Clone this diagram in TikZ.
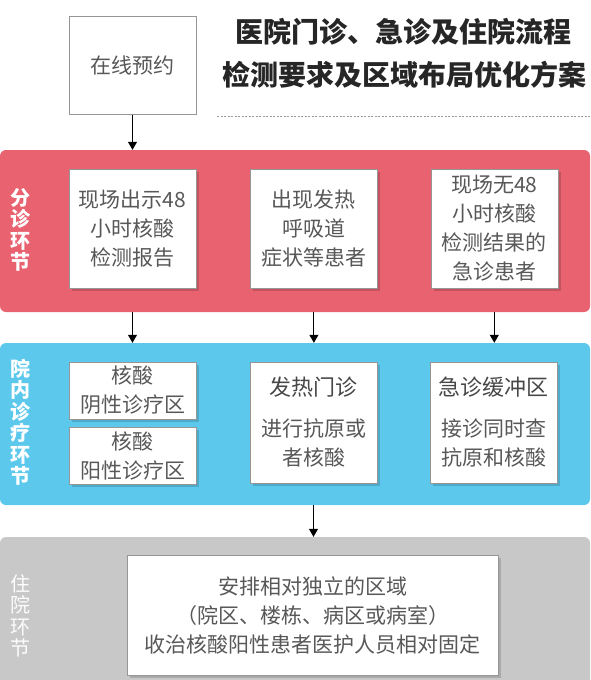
\documentclass[tikz,border=0pt]{standalone}
\usepackage{fontspec}
\setmainfont{Noto Sans CJK SC}
\usepackage{xcolor}
\usetikzlibrary{positioning,arrows.meta,shadows}
\definecolor{triage}{RGB}{232,98,112}
\definecolor{clinic}{RGB}{92,200,236}
\definecolor{ward}{RGB}{200,200,200}
\definecolor{txt}{RGB}{88,88,88}
\definecolor{rim}{RGB}{150,150,150}

\begin{document}
\begin{tikzpicture}[
  x=1pt, y=-1pt,
  node distance=8pt and 54pt,
  band/.style={rounded corners=6pt, minimum width=590pt, inner sep=0pt},
  card/.style={draw=rim, fill=white, align=center, text=txt, font=\fontsize{21}{29}\selectfont, minimum width=127pt, inner sep=0pt, drop shadow={shadow xshift=3pt, shadow yshift=-3pt, fill=black, opacity=.15}},
  tag/.style={text=white, font=\fontsize{20}{21.5}\selectfont, align=center},
  headline/.style={text=black!85, font=\fontsize{28}{30}\selectfont\bfseries},
  arr/.style={-{Triangle[length=8pt,width=9pt]}, line width=1.1pt}
]
\useasboundingbox (0,0) rectangle (590,680);

\node[draw=rim, fill=white, text=txt, font=\fontsize{21}{29}\selectfont, minimum width=127pt, minimum height=98pt, inner sep=0pt] (book) at (132.5,65.5) {在线预约};
\node[headline] (head1) at (403,32) {医院门诊、急诊及住院流程};
\node[headline] (head2) at (404,75) {检测要求及区域布局优化方案};
\coordinate (rule1) at (217,116);
\coordinate (rule2) at (590,116);
\draw[black!40, dashed, dash pattern=on 2pt off 1.5pt] (rule1) -- (rule2);

\node[band, fill=triage, minimum height=162pt] (triage) at (295,231) {};
\node[band, fill=clinic, minimum height=162pt] (clinic) at (295,424) {};
\node[band, fill=ward, minimum height=153pt] (ward) at (295,613.5) {};

\node[tag, font=\fontsize{20}{21.5}\selectfont\bfseries] (t1) at (20,230) {分\\诊\\环\\节};
\node[tag, font=\fontsize{20}{21.5}\selectfont\bfseries] (t2) at (20,422) {院\\内\\诊\\疗\\环\\节};
\node[tag, text=white!95!ward] (t3) at (20,616) {住\\院\\环\\节};

\node[card, minimum height=119pt] (r1) at (132.5,228.5) {现场出示48\\小时核酸\\检测报告};
\node[card, minimum height=119pt, right=of r1] (r2) {出现发热\\呼吸道\\症状等患者};
\node[card, minimum height=119pt, right=53pt of r2] (r3) {现场无48\\小时核酸\\检测结果的\\急诊患者};

\node[card, minimum height=57pt] (b1) at (132.5,390.5) {核酸\\阴性诊疗区};
\node[card, minimum height=57pt, below=of b1] (b2) {核酸\\阳性诊疗区};
\node[card, minimum height=121pt] (b3) at (313.5,422.5) {{\color{black!72}\fontsize{22}{29}\selectfont 发热门诊}\\[12pt]进行抗原或\\者核酸};
\node[card, minimum height=121pt] (b4) at (493.5,422.5) {{\color{black!72}\fontsize{22}{29}\selectfont 急诊缓冲区}\\[12pt]接诊同时查\\抗原和核酸};

\node[card, minimum width=371pt, minimum height=120pt] (w1) at (312.5,615) {安排相对独立的区域\\（院区、楼栋、病区或病室）\\收治核酸阳性患者医护人员相对固定};

\draw[arr] (book) -- (book |- triage.north);
\draw[arr] (r1 |- triage.south) -- (r1 |- clinic.north);
\draw[arr] (r2 |- triage.south) -- (r2 |- clinic.north);
\draw[arr] (r3 |- triage.south) -- (r3 |- clinic.north);
\draw[arr] (b3 |- clinic.south) -- (b3 |- ward.north);
\end{tikzpicture}
\end{document}
